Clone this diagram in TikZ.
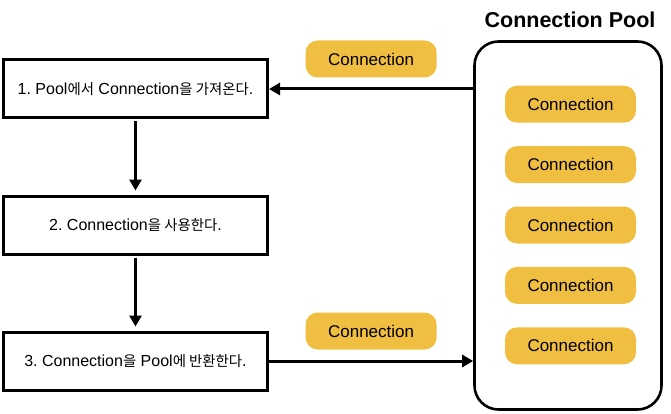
\documentclass[tikz,border=0pt]{standalone}
\usepackage{fontspec}
\setmainfont{Liberation Sans}
\newfontfamily\kofont[Scale=0.9]{Noto Sans CJK KR}
\newcommand{\ko}[1]{{\kofont #1}}
\usepackage{xcolor}
\usetikzlibrary{arrows.meta,positioning}
\definecolor{pillyellow}{RGB}{240,190,65}
\frenchspacing

\begin{document}
\begin{tikzpicture}[
    x=1pt, y=-1pt,
    node distance=75pt,
    stepbox/.style={
      rectangle, draw=black, line width=3pt, fill=white,
      minimum width=264pt, minimum height=58pt,
      font=\fontsize{16}{18}\selectfont
    },
    pill/.style={
      rectangle, rounded corners=12pt, fill=pillyellow, draw=none,
      minimum width=131pt, minimum height=37pt,
      font=\fontsize{17}{20}\selectfont
    },
    poolbox/.style={
      rectangle, rounded corners=24pt, draw=black, line width=2.6pt,
      minimum width=187pt, minimum height=368pt
    },
    arr/.style={-{Triangle[length=11pt, width=12pt]}, line width=3pt},
  ]
  \useasboundingbox (0,0) rectangle (671,414);

  % Steps
  \node[stepbox] at (135.5,89) (step1) {1. Pool\ko{에서} Connection\ko{을 가져온다}.};
  \node[stepbox, below=of step1] (step2) {2. Connection\ko{을 사용한다}.};
  \node[stepbox, below=of step2] (step3) {3. Connection\ko{을} Pool\ko{에 반환한다}.};

  % Pool
  \node[poolbox] at (568,225.5) (pool) {};
  \node[font=\fontsize{21.5}{24}\selectfont\bfseries] at (570,20) (pooltitle) {Connection Pool};

  \node[pill] at (570.5,225) (conn3) {Connection};
  \node[pill, above=23pt of conn3] (conn2) {Connection};
  \node[pill, above=23pt of conn2] (conn1) {Connection};
  \node[pill, below=23pt of conn3] (conn4) {Connection};
  \node[pill, below=23pt of conn4] (conn5) {Connection};

  % Edges
  \draw[arr, shorten <=2pt, shorten >=4pt] (step1) -- (step2);
  \draw[arr, shorten <=2pt, shorten >=4pt] (step2) -- (step3);
  \draw[arr] (pool.west |- step1.east) -- node[pill, above=10pt] (borrowed) {Connection} (step1.east);
  \draw[arr] (step3.east) -- node[pill, above=10pt] (returned) {Connection} (step3.east -| pool.west);

\end{tikzpicture}
\end{document}
